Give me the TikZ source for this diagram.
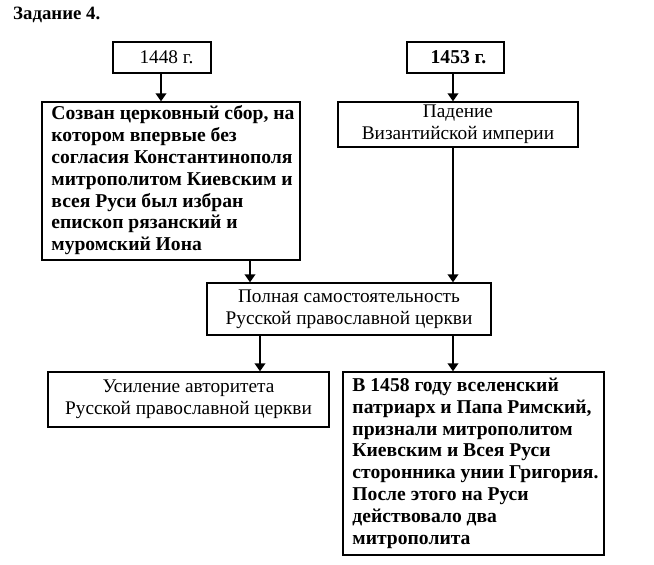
\documentclass[tikz,border=0pt]{standalone}
\usepackage{fontspec}
\setmainfont{Liberation Serif}
\usetikzlibrary{arrows.meta,calc}
\begin{document}
\begin{tikzpicture}[x=1pt,y=-1pt,
  box/.style={draw, line width=1.3pt, inner sep=0pt, font=\fontsize{19.3}{21.8}\selectfont, align=center},
  bbox/.style={box, font=\fontsize{19.6}{21.8}\selectfont\bfseries},
  arr/.style={line width=2.8pt, -{Triangle[width=10.5pt,length=8pt]}}]
\useasboundingbox (0,0) rectangle (654,565);
\node[anchor=base west, font=\fontsize{18.8}{20}\selectfont\bfseries, inner sep=0pt] (title) at (13,19) {Задание 4.};
\node[box, minimum width=98pt, minimum height=31pt] (b1448) at (162,57.5) {\hspace*{9pt}1448 г.};
\node[box, minimum width=97pt, minimum height=31pt, font=\fontsize{19.6}{21.8}\selectfont\bfseries] (b1453) at (455.5,57.5) {\hspace*{6pt}1453 г.};
\node[bbox, minimum width=258pt, minimum height=158pt] (sobor) at (171,181) {\begin{tabular}{@{\hspace{4pt}}l@{}}Созван церковный сбор, на\\котором впервые без\\согласия Константинополя\\митрополитом Киевским и\\всея Руси был избран\\епископ рязанский и\\муромский Иона\end{tabular}};
\node[box, minimum width=240pt, minimum height=45pt] (pad) at (458,124.5) {Падение\\Византийской империи};
\node[box, minimum width=284pt, minimum height=52pt] (full) at (349,309) {Полная самостоятельность\\Русской православной церкви};
\node[box, minimum width=281pt, minimum height=55pt] (us) at (188.5,399.5) {Усиление авторитета\\Русской православной церкви};
\node[bbox, minimum width=261pt, minimum height=183pt] (b1458) at (473.5,463.5) {\begin{tabular}{@{\hspace{4pt}}l@{}}В 1458 году вселенский\\патриарх и Папа Римский,\\признали митрополитом\\Киевским и Всея Руси\\сторонника унии Григория.\\После этого на Руси\\действовало два\\митрополита\end{tabular}};
\coordinate (xa) at (250,0);
\coordinate (xb) at (453,0);
\coordinate (xc) at (260,0);
\coordinate (xd) at (161,0);
\draw[arr] (b1448.south -| xd) -- (sobor.north -| xd);
\draw[arr] (b1453.south -| xb) -- (pad.north -| xb);
\draw[arr] (sobor.south -| xa) -- (full.north -| xa);
\draw[arr] (pad.south -| xb) -- (full.north -| xb);
\draw[arr] (full.south -| xc) -- (us.north -| xc);
\draw[arr] (full.south -| xb) -- (b1458.north -| xb);
\end{tikzpicture}
\end{document}
